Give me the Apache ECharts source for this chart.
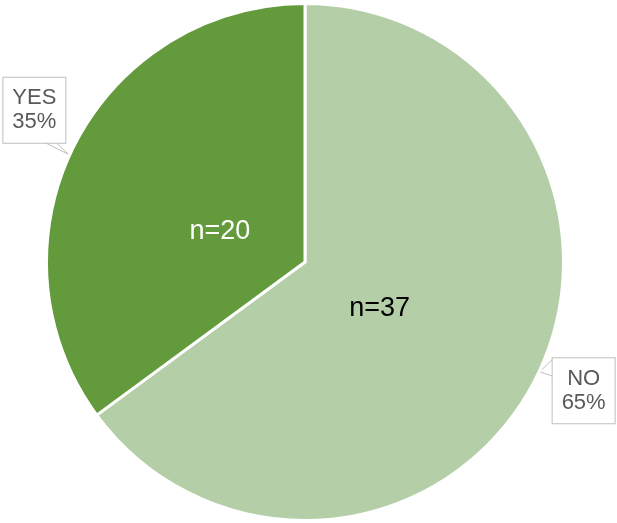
<!DOCTYPE html>
<html>
<head>
<meta charset="utf-8">
<style>
  html, body { margin: 0; padding: 0; background: #ffffff; }
  #chart { width: 617px; height: 523px; }
</style>
<script src="https://cdn.jsdelivr.net/npm/echarts@6/dist/echarts.min.js"></script>
</head>
<body>
<div id="chart"></div>
<script>
// Answers and respondent counts
const categories = ['NO', 'YES'];
const counts = [37, 20];

const sliceColors = ['#B4CFA7', '#629A3C'];
const countLabelColors = ['#000000', '#ffffff'];
const FONT = '"Liberation Sans", Arial, sans-serif';

const chart = echarts.init(document.getElementById('chart'), null, { renderer: 'canvas' });

const CX = 305, CY = 262, R = 257;

// Callout boxes: offset of the box centre from the point on the rim
const calloutOffset = [[48, 12], [-40, -35]];
const BOX_W = 62, BOX_H = 65;

const mainData = categories.map((name, i) => ({
  name,
  value: counts[i],
  itemStyle: { color: sliceColors[i] }
}));

const countData = categories.map((name, i) => ({
  name,
  value: counts[i],
  label: {
    color: countLabelColors[i],
    offset: i === 0 ? [-6.5, 5.5] : [-4, 10.5]
  }
}));

const option = {
  backgroundColor: '#ffffff',
  animation: false,
  series: [
    {
      type: 'pie',
      center: [CX, CY],
      radius: R + 1.5,
      startAngle: 90,
      clockwise: true,
      percentPrecision: 0,
      silent: true,
      itemStyle: { borderColor: '#ffffff', borderWidth: 3 },
      label: {
        show: true,
        position: 'outside',
        formatter: '{b}\n{d}%',
        fontFamily: FONT,
        fontSize: 22,
        lineHeight: 24,
        color: '#595959',
        backgroundColor: '#ffffff',
        borderColor: '#BFBFBF',
        borderWidth: 1,
        width: BOX_W - 18,
        height: BOX_H - 17,
        padding: [9, 9, 8, 9],
        overflow: 'none',
        align: 'center'
      },
      labelLine: {
        show: true,
        lineStyle: { color: '#BFBFBF', width: 1 }
      },
      labelLayout: function (params) {
        const i = params.dataIndex;
        const tip = params.labelLinePoints[0];
        const bx = tip[0] + calloutOffset[i][0];
        const by = tip[1] + calloutOffset[i][1];
        let pts;
        if (i === 0) {
          // pointer enters the box from its left edge
          const lx = bx - BOX_W / 2;
          const top = by - BOX_H / 2;
          pts = [[lx, top + 1], [tip[0] + 4, tip[1] - 7], [lx, top + 18]];
        } else {
          // pointer enters the box from its bottom edge
          const bot = by + BOX_H / 2;
          const lx = bx - BOX_W / 2;
          pts = [[lx + 42, bot], [tip[0] - 6, tip[1] + 9], [lx + 53, bot]];
        }
        return {
          x: bx,
          y: by,
          align: 'center',
          verticalAlign: 'middle',
          labelLinePoints: pts
        };
      },
      data: mainData,
      z: 2
    },
    {
      type: 'pie',
      center: [CX, CY],
      radius: 176,
      startAngle: 90,
      clockwise: true,
      silent: true,
      itemStyle: { color: 'rgba(0,0,0,0)' },
      label: {
        show: true,
        position: 'inside',
        formatter: 'n={c}',
        fontFamily: FONT,
        fontSize: 27
      },
      labelLine: { show: false },
      data: countData,
      z: 3
    }
  ]
};

chart.setOption(option);
</script>
</body>
</html>
